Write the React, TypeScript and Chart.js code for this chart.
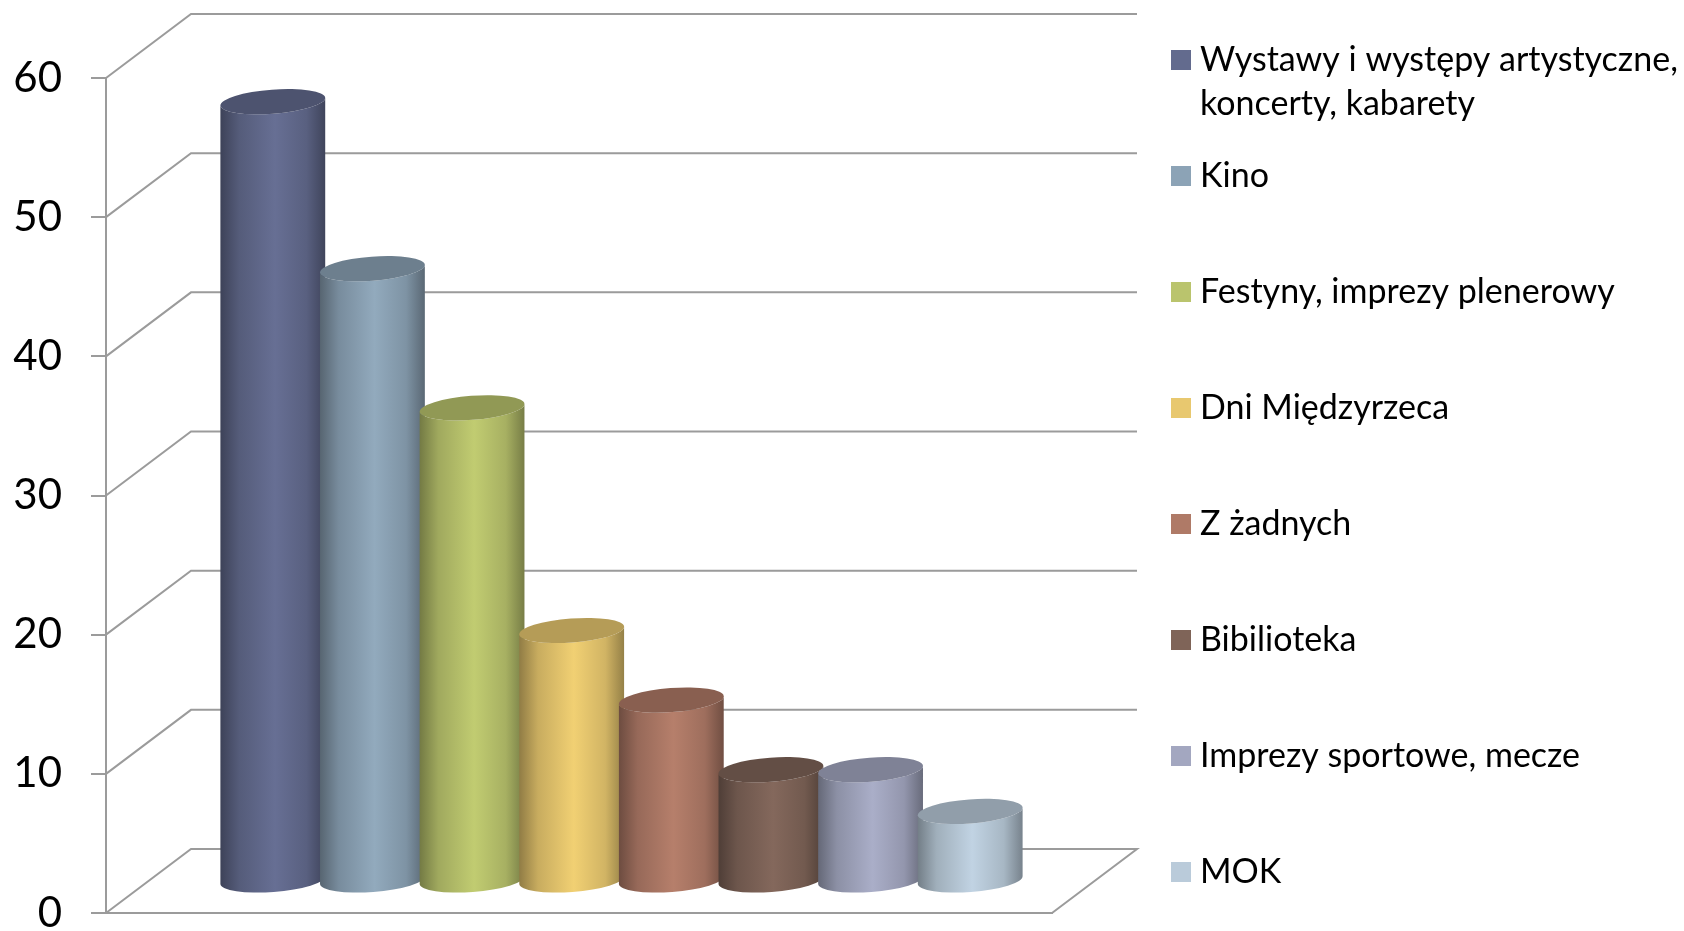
import React, { useEffect, useRef } from "react";
import { Chart, registerables } from "chart.js";

Chart.register(...registerables);

const categories = [""];
const seriesNames = [
  ["Wystawy i występy artystyczne,", "koncerty, kabarety"],
  ["Kino"],
  ["Festyny, imprezy plenerowy"],
  ["Dni Międzyrzeca"],
  ["Z żadnych"],
  ["Bibilioteka"],
  ["Imprezy sportowe, mecze"],
  ["MOK"],
];
const seriesValues = [56, 44, 34, 18, 13, 8, 8, 5];
const seriesColors = ["#636B8E", "#8CA3B6", "#BAC46D", "#E8C86F", "#AF7A67", "#7F6458", "#A3A7C0", "#BACBDA"];
const yTickStep = 10;
const yMax = 60;

const AXIS = "#9B9B9B";
const FONT = "Lato";
const DEPTH_X = 85;
const DEPTH_Y = 64;
const ELLIPSE_RY = 12;
const ELLIPSE_ROT = -0.075;

function shade(hex: string, f: number) {
  const n = parseInt(hex.slice(1), 16);
  const c = [(n >> 16) & 255, (n >> 8) & 255, n & 255].map((v) => Math.min(255, Math.round(v * f)));
  return `rgb(${c[0]},${c[1]},${c[2]})`;
}

const wallPlugin = {
  id: "cylinders3d",
  afterLayout(chart: any) {
    const l = chart.legend;
    l.left = 1151;
    l.top = 15;
    l.right = 1684;
    l.bottom = 3000;
  },
  beforeDatasetsDraw(chart: any) {
    const { ctx, chartArea, scales } = chart;
    const y = scales.y;
    const L = chartArea.left;
    const R = chartArea.right;
    ctx.save();
    ctx.strokeStyle = AXIS;
    ctx.lineWidth = 2;
    y.ticks.forEach((t: any) => {
      const py = y.getPixelForValue(t.value);
      ctx.beginPath();
      ctx.moveTo(L, py);
      ctx.lineTo(L + DEPTH_X, py - DEPTH_Y);
      ctx.lineTo(R + DEPTH_X, py - DEPTH_Y);
      if (t.value === 0) ctx.lineTo(R, py);
      ctx.stroke();
    });

    chart.data.datasets.forEach((ds: any, i: number) => {
      const bar = chart.getDatasetMeta(i).data[0];
      const color = ds.backgroundColor;
      const cx = bar.x + DEPTH_X / 2;
      const top = bar.y - DEPTH_Y / 2;
      const bot = bar.base - DEPTH_Y / 2;
      const rx = bar.width / 2;
      const ex = rx * Math.cos(ELLIPSE_ROT);
      const ey = rx * Math.sin(ELLIPSE_ROT);
      const g = ctx.createLinearGradient(cx - rx, 0, cx + rx, 0);
      g.addColorStop(0, shade(color, 0.62));
      g.addColorStop(0.18, shade(color, 0.86));
      g.addColorStop(0.52, shade(color, 1.04));
      g.addColorStop(0.82, shade(color, 0.9));
      g.addColorStop(1, shade(color, 0.64));
      ctx.beginPath();
      ctx.moveTo(cx + ex, top + ey);
      ctx.lineTo(cx + ex, bot + ey);
      ctx.ellipse(cx, bot, rx, ELLIPSE_RY, ELLIPSE_ROT, 0, Math.PI, false);
      ctx.lineTo(cx - ex, top - ey);
      ctx.ellipse(cx, top, rx, ELLIPSE_RY, ELLIPSE_ROT, Math.PI, 0, true);
      ctx.closePath();
      ctx.fillStyle = g;
      ctx.fill();
      ctx.beginPath();
      ctx.ellipse(cx, top, rx, ELLIPSE_RY, ELLIPSE_ROT, 0, Math.PI * 2);
      ctx.fillStyle = shade(color, 0.78);
      ctx.fill();
    });
    ctx.restore();
    return false;
  },
};

export default function App() {
  const ref = useRef<HTMLCanvasElement>(null);
  useEffect(() => {
    document.body.style.margin = "0";
    document.body.style.background = "#fff";
    const chart = new Chart(ref.current as HTMLCanvasElement, {
      type: "bar",
      data: {
        labels: categories,
        datasets: seriesNames.map((name, i) => ({
          label: name.join(" "),
          data: [seriesValues[i]],
          backgroundColor: seriesColors[i],
        })),
      },
      options: {
        responsive: false,
        animation: false,
        devicePixelRatio: 1,
        categoryPercentage: 0.8425,
        barPercentage: 1.055,
        layout: { padding: { left: 0, right: 632, top: 78, bottom: 18 } },
        scales: {
          x: {
            grid: { display: false, drawTicks: false },
            ticks: { display: false },
            border: { display: true, color: AXIS, width: 2 },
            afterFit: (s: any) => { s.height = 0; },
          },
          y: {
            min: 0,
            max: yMax,
            ticks: { stepSize: yTickStep, color: "#000", padding: 29, font: { family: FONT, size: 42 } },
            grid: { drawOnChartArea: false, color: AXIS, lineWidth: 2, tickLength: 15 },
            border: { display: true, color: AXIS, width: 2 },
            afterFit: (s: any) => {
              s.width = 106;
              s.paddingTop = 0;
              s.paddingBottom = 0;
            },
          },
        },
        plugins: {
          tooltip: { enabled: false },
          title: { display: false },
          legend: {
            display: true,
            position: "chartArea",
            align: "start",
            labels: {
              color: "#000",
              boxWidth: 4,
              boxHeight: 4,
              padding: 28,
              font: { family: FONT, size: 34, lineHeight: 44 / 34 },
              generateLabels: (c: any) =>
                c.data.datasets.map((ds: any, i: number) => ({
                  text: [seriesNames[i][0], seriesNames[i][1] ?? ""],
                  fillStyle: ds.backgroundColor,
                  strokeStyle: ds.backgroundColor,
                  lineWidth: 16,
                  hidden: false,
                  datasetIndex: i,
                })),
            },
          },
        },
      } as any,
      plugins: [wallPlugin],
    });
    return () => chart.destroy();
  }, []);
  return (
    <div style={{ position: "fixed", left: 0, top: 0, width: 1684, height: 931, background: "#fff" }}>
      <canvas ref={ref} width={1684} height={931} style={{ display: "block" }} />
    </div>
  );
}
